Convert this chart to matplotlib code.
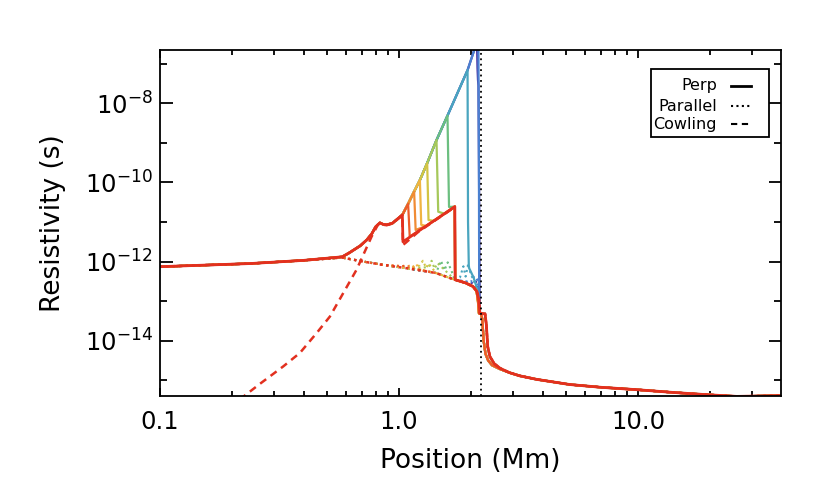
import numpy as np
import matplotlib.pyplot as plt
from matplotlib.patches import Rectangle
from matplotlib.ticker import NullFormatter, FixedLocator

plt.rcParams['font.family'] = ['DejaVu Sans']
plt.rcParams['mathtext.fontset'] = 'dejavusans'
plt.rcParams['mathtext.default'] = 'regular'

# positions in Mm, resistivities as log10(s)

# common part of every snapshot (photosphere -> chromosphere)
x_base = [0.100, 0.24, 0.40, 0.58, 0.62, 0.69, 0.735, 0.77, 0.80, 0.833, 0.86, 0.89, 0.94]
perp_base = [-12.13, -12.05, -11.97, -11.88, -11.78, -11.60, -11.45, -11.30, -11.12, -11.02, -11.06, -11.07, -11.03]

# upper envelope reached by the perpendicular resistivity
x_env = [1.034, 1.093, 1.158, 1.224, 1.313, 1.436, 1.596, 1.713, 1.936, 2.097]
env = [-10.82, -10.54, -10.23, -9.94, -9.51, -8.93, -8.31, -7.89, -7.16, -6.53]

# lower branch of the final (red) perp curve
x_low = [1.040, 1.10, 1.20, 1.30, 1.40, 1.55, 1.713]
low = [-11.50, -11.40, -11.24, -11.10, -10.97, -10.79, -10.61]

# final curve right of the front
x_tail = [1.718, 1.90, 2.04, 2.12, 2.16, 2.18, 2.20, 2.29, 2.32, 2.35, 2.40, 2.50, 2.65, 2.90, 3.20, 3.77, 5.18, 7.0, 9.86, 14.0, 18.6, 25.8, 39.3]
tail = [-12.46, -12.54, -12.63, -12.76, -12.97, -13.31, -13.31, -13.32, -13.60, -14.15, -14.40, -14.58, -14.70, -14.81, -14.89, -14.98, -15.11, -15.18, -15.24, -15.31, -15.36, -15.41, -15.39]

# earlier snapshots sit slightly left at the transition region steps
x_ctail = [1.718, 1.90, 2.04, 2.11, 2.14, 2.16, 2.20, 2.23, 2.26, 2.30, 2.36, 2.45, 2.65]
ctail = [-12.46, -12.54, -12.63, -12.74, -13.00, -13.31, -13.31, -13.45, -14.00, -14.33, -14.50, -14.62, -14.72]

# parallel resistivity of the final snapshot
x_par = [0.100, 0.24, 0.40, 0.58, 0.71, 0.85, 1.11, 1.43, 1.713]
par = [-12.13, -12.05, -11.97, -11.90, -12.00, -12.08, -12.18, -12.29, -12.46]

# Cowling resistivity of the final snapshot
x_cow = [0.216, 0.263, 0.329, 0.386, 0.453, 0.515, 0.665, 0.769, 0.817, 0.833, 0.86, 0.89, 0.94, 1.034, 1.040, 1.07, 1.20, 1.40, 1.55, 1.713]
cow = [-15.49, -15.09, -14.65, -14.31, -13.81, -13.39, -12.21, -11.37, -11.07, -11.03, -11.07, -11.08, -11.04, -10.83, -11.58, -11.52, -11.26, -10.98, -10.80, -10.62]

# earlier snapshots, oldest first
snap_colors = ['#4a35a5', '#4a80d0', '#4aa5bf', '#6cbf80', '#a6c85a', '#d2c444', '#f0b442', '#f08c34', '#ec5c2a']
# front position, knee below the front, where it joins the lower branch
front_x = [None, None, 1.936, 1.596, 1.436, 1.313, 1.224, 1.158, 1.093]
knee_x = [None, None, None, 1.62, 1.46, 1.33, 1.24, 1.175, 1.11]
knee = [None, None, None, -10.62, -10.74, -10.95, -11.07, -11.20, -11.37]
join_x = [None, None, None, 1.713, 1.55, 1.40, 1.30, 1.30, 1.20]

# steep fronts near the top for the three oldest snapshots
purple_x = [2.12, 2.13, 2.14, 2.15, 2.165, 2.175]
purple = [-6.45, -7.10, -7.40, -7.55, -10.5, -13.31]
blue_x = [2.13, 2.15, 2.16, 2.165, 2.175]
blue = [-6.40, -6.70, -9.50, -12.80, -13.31]
teal_x = [1.945, 1.96, 2.05, 2.12, 2.15, 2.17]
teal = [-11.00, -12.15, -12.40, -12.67, -13.00, -13.31]

# ragged parallel resistivity of earlier snapshots near their fronts
par_jag_x = [[2.05, 2.10, 2.14],
             [2.00, 2.05, 2.09, 2.13],
             [1.80, 1.86, 1.90, 1.95, 2.00, 2.05],
             [1.45, 1.50, 1.55, 1.60, 1.65],
             [1.33, 1.37, 1.41, 1.45],
             [1.22, 1.26, 1.30, 1.33],
             [1.14, 1.18, 1.22],
             [1.08, 1.12, 1.15],
             [1.03, 1.06, 1.09]]
par_jag = [[-12.55, -12.50, -12.60],
           [-12.52, -12.38, -12.55, -12.45],
           [-12.40, -12.12, -12.38, -12.05, -12.34, -12.45],
           [-12.20, -11.98, -12.22, -12.02, -12.20],
           [-12.14, -11.98, -12.18, -12.04],
           [-12.10, -11.98, -12.16, -12.05],
           [-12.14, -12.06, -12.20],
           [-12.12, -12.10, -12.16],
           [-12.12, -12.10, -12.15]]

red = '#e2301f'
x_front_line = 2.20


def pick(xs, ys, lo=-np.inf, hi=np.inf):
    return [(a, b) for a, b in zip(xs, ys) if lo <= a <= hi]


def snapshot(k):
    pts = list(zip(x_base, perp_base))
    if k < 3:
        if k == 2:
            pts += pick(x_env, env, hi=front_x[2])
        else:
            pts += pick(x_env, env)
        extra = [zip(purple_x, purple), zip(blue_x, blue), zip(teal_x, teal)][k]
        pts += list(extra)
        pts += pick(x_ctail, ctail, lo=2.19) + pick(x_tail, tail, lo=2.8)
    else:
        pts += pick(x_env, env, hi=front_x[k])
        pts += [(knee_x[k], knee[k])]
        pts += pick(x_low, low, lo=join_x[k])
        pts += list(zip(x_ctail, ctail)) + pick(x_tail, tail, lo=2.8)
    xs, ys = zip(*pts)
    return np.array(xs), 10 ** np.array(ys)


def par_snapshot(k):
    pts = pick(x_par, par, hi=par_jag_x[k][0] - 0.01)
    pts += list(zip(par_jag_x[k], par_jag[k]))
    pts += pick(x_par, par, lo=par_jag_x[k][-1] + 0.01)
    pts += pick(x_tail, tail, lo=max(par_jag_x[k][-1] + 0.01, 1.718))
    xs, ys = zip(*pts)
    return np.array(xs), 10 ** np.array(ys)


fig = plt.figure(figsize=(8.3, 4.98), dpi=100)
ax = fig.add_axes([0.1922, 0.2048, 0.7488, 0.6948])

dots = (0, (1, 1.6))

for k, c in enumerate(snap_colors):
    xs, ys = par_snapshot(k)
    ax.plot(xs, ys, color=c, lw=1.5, linestyle=dots)

for k, c in enumerate(snap_colors):
    xs, ys = snapshot(k)
    ax.plot(xs, ys, color=c, lw=1.6)

# final snapshot
ax.plot(x_par + x_tail, 10 ** np.array(par + tail), color=red, lw=1.8, linestyle=dots)
ax.plot(x_cow, 10 ** np.array(cow), color=red, lw=1.8, linestyle=(0, (3, 2.2)))
x_red = x_base + x_env[:1] + x_low + x_tail
y_red = perp_base + env[:1] + low + tail
ax.plot(x_red, 10 ** np.array(y_red), color=red, lw=2.0)

ax.axvline(x_front_line, color='black', lw=1.3, linestyle=(0, (1, 2)))

ax.set_xscale('log')
ax.set_yscale('log')
ax.set_xlim(0.1, 39.5)
ax.set_ylim(10 ** -15.40, 10 ** -6.65)

ax.set_xticks([0.1, 1, 10])
ax.set_xticklabels(['0.1', '1.0', '10.0'])
ax.yaxis.set_major_locator(FixedLocator([1e-14, 1e-12, 1e-10, 1e-8]))
ax.set_yticklabels(['10$^{-14}$', '10$^{-12}$', '10$^{-10}$', '10$^{-8}$'])
ax.yaxis.set_minor_locator(FixedLocator([1e-15, 1e-13, 1e-11, 1e-9, 1e-7]))
ax.yaxis.set_minor_formatter(NullFormatter())
ax.xaxis.set_minor_formatter(NullFormatter())

ax.tick_params(which='both', direction='in', top=True, right=True, width=1.3, labelsize=17.5)
ax.tick_params(axis='x', which='major', length=6, pad=10)
ax.tick_params(axis='x', which='minor', length=3.5)
ax.tick_params(axis='y', which='major', length=9, pad=5)
ax.tick_params(axis='y', which='minor', length=5)
for s in ax.spines.values():
    s.set_linewidth(1.3)

ax.set_xlabel('Position (Mm)', fontsize=19)
ax.set_ylabel('Resistivity (s)', fontsize=19)
ax.xaxis.set_label_coords(0.5, -0.15)
ax.yaxis.set_label_coords(-0.15, 0.5)

# legend box drawn by hand: right-aligned labels with line samples
ax.add_patch(Rectangle((0.791, 0.749), 0.190, 0.196, transform=ax.transAxes,
                       fill=False, lw=1.3, edgecolor='black', zorder=5))
leg_names = ['Perp', 'Parallel', 'Cowling']
leg_styles = ['-', dots, (0, (3, 2.2))]
leg_y = [0.897, 0.837, 0.786]
for name, st, yy in zip(leg_names, leg_styles, leg_y):
    ax.text(0.897, yy, name, transform=ax.transAxes, ha='right', va='center', fontsize=11.5, zorder=6)
    ax.plot([0.919, 0.951], [yy, yy], transform=ax.transAxes, color='black',
            lw=2.0 if st == '-' else 1.5, linestyle=st, zorder=6)

fig.savefig('out.png', dpi=100)
